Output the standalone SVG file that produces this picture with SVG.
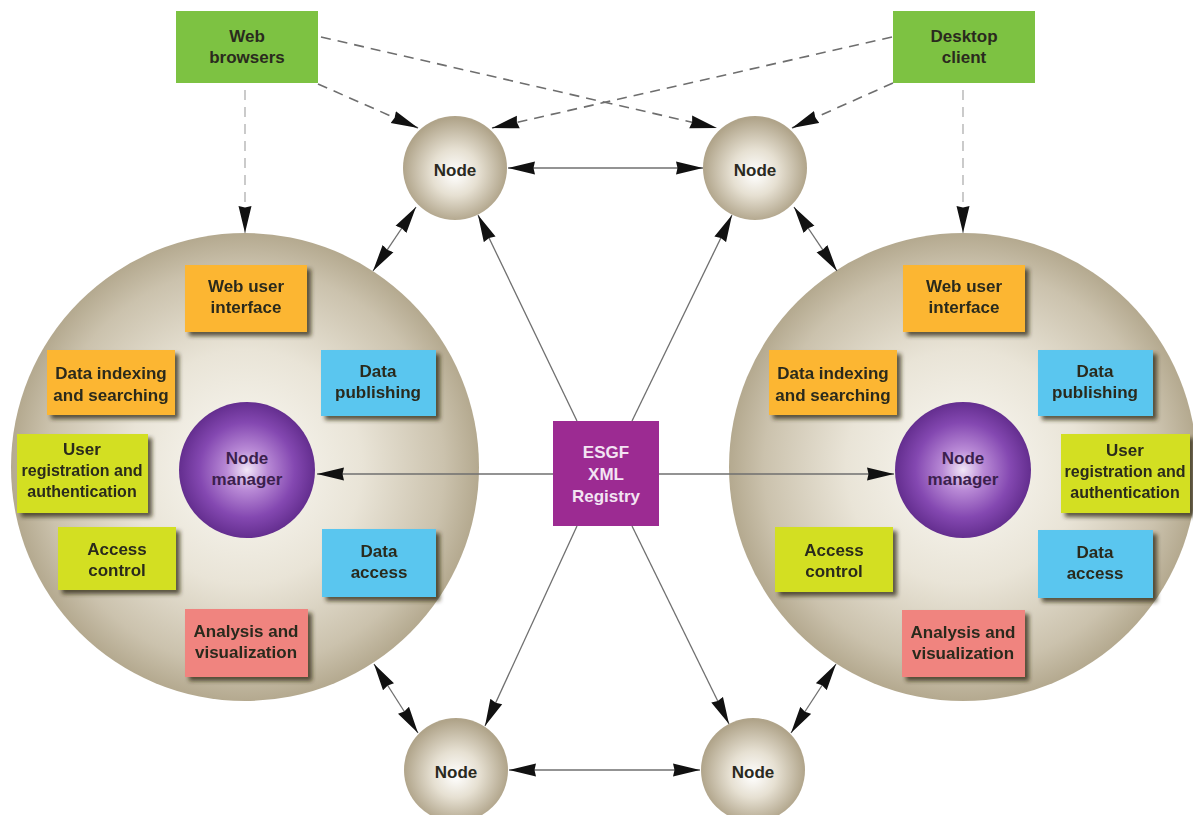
<svg xmlns="http://www.w3.org/2000/svg" width="1193" height="815" viewBox="0 0 1193 815">
<defs>
<radialGradient id="gBig" cx="50%" cy="50%" r="50%">
<stop offset="0" stop-color="#fbfaf5"/>
<stop offset="0.5" stop-color="#e9e4d7"/>
<stop offset="0.85" stop-color="#cbc2ad"/>
<stop offset="1" stop-color="#b4a98f"/>
</radialGradient>
<radialGradient id="gNode" cx="50%" cy="52%" r="50%" fx="50%" fy="56%">
<stop offset="0" stop-color="#ffffff"/>
<stop offset="0.45" stop-color="#e6e0d2"/>
<stop offset="1" stop-color="#b0a48a"/>
</radialGradient>
<radialGradient id="gMgr" cx="50%" cy="50%" r="50%">
<stop offset="0" stop-color="#f1e6f7"/>
<stop offset="0.3" stop-color="#b98ad6"/>
<stop offset="0.7" stop-color="#8448b1"/>
<stop offset="1" stop-color="#642e8f"/>
</radialGradient>
<filter id="sh" x="-10%" y="-10%" width="130%" height="130%">
<feDropShadow dx="4" dy="4" stdDeviation="2" flood-color="#2e2718" flood-opacity="0.75"/>
</filter>
<marker id="ah" markerUnits="userSpaceOnUse" markerWidth="28" markerHeight="14" refX="27" refY="7" orient="auto-start-reverse" viewBox="0 0 28 14">
<path d="M0,0.5 L27,7 L0,13.5 L1.5,7 Z" fill="#111" stroke="none"/>
</marker>
<style>
.t{font-family:"Liberation Sans",Arial,sans-serif;font-weight:bold;font-size:17px;text-anchor:middle;fill:#2a2a1e}
.s{font-size:16px}
.w{fill:#f3e4f3}
.m{fill:#3b1f4d}
.green{fill:#7dc242}
.orange{fill:#fcb632}
.blue{fill:#5ac6ef}
.lime{fill:#d3df22}
.pink{fill:#f0847f}
.box{filter:url(#sh)}
.sol{stroke:#6f6f6f;stroke-width:1.3;fill:none}
.dash{stroke:#6e6e6e;stroke-width:1.6;stroke-dasharray:10 7;fill:none}
.dashl{stroke:#b5b5b5;stroke-width:1.4;stroke-dasharray:10 7;fill:none}
</style>
</defs>
<rect width="1193" height="815" fill="#ffffff"/>

<g id="site-left">
<circle cx="245" cy="467" r="234" fill="url(#gBig)"/>
</g>
<g id="site-right">
<circle cx="963" cy="467" r="234" fill="url(#gBig)"/>
</g>

<g id="web-browsers">
<rect x="176" y="11" width="142" height="72" class="green"/>
<text class="t" x="247" y="42">Web</text>
<text class="t" x="247" y="63">browsers</text>
</g>
<g id="desktop-client">
<rect x="893" y="11" width="142" height="72" class="green"/>
<text class="t" x="964" y="42">Desktop</text>
<text class="t" x="964" y="63">client</text>
</g>

<g id="node-tl">
<circle cx="455" cy="168" r="52" fill="url(#gNode)"/>
<text class="t" x="455" y="176">Node</text>
</g>
<g id="node-tr">
<circle cx="755" cy="168" r="52" fill="url(#gNode)"/>
<text class="t" x="755" y="176">Node</text>
</g>
<g id="node-bl">
<circle cx="456" cy="770" r="52" fill="url(#gNode)"/>
<text class="t" x="456" y="778">Node</text>
</g>
<g id="node-br">
<circle cx="753" cy="770" r="52" fill="url(#gNode)"/>
<text class="t" x="753" y="778">Node</text>
</g>

<g id="registry">
<rect x="553" y="421" width="106" height="105" fill="#9c2b92"/>
<text class="t w" x="606" y="458">ESGF</text>
<text class="t w" x="606" y="480">XML</text>
<text class="t w" x="606" y="502">Registry</text>
</g>

<!-- left site components -->
<g id="l-webui" class="box">
<rect x="185" y="265" width="122" height="67" class="orange"/>
<text class="t" x="246" y="292">Web user</text>
<text class="t" x="246" y="313">interface</text>
</g>
<g id="l-index" class="box">
<rect x="47" y="350" width="128" height="65" class="orange"/>
<text class="t" x="111" y="379">Data indexing</text>
<text class="t" x="111" y="401">and searching</text>
</g>
<g id="l-publish" class="box">
<rect x="321" y="350" width="115" height="66" class="blue"/>
<text class="t" x="378" y="377">Data</text>
<text class="t" x="378" y="398">publishing</text>
</g>
<g id="l-userreg" class="box">
<rect x="17" y="434" width="131" height="79" class="lime"/>
<text class="t" x="82" y="455">User</text>
<text class="t s" x="82" y="476">registration and</text>
<text class="t s" x="82" y="497">authentication</text>
</g>
<g id="l-manager">
<circle cx="247" cy="470" r="68" fill="url(#gMgr)"/>
<text class="t m" x="247" y="464">Node</text>
<text class="t m" x="247" y="485">manager</text>
</g>
<g id="l-access" class="box">
<rect x="58" y="527" width="118" height="63" class="lime"/>
<text class="t" x="117" y="555">Access</text>
<text class="t" x="117" y="576">control</text>
</g>
<g id="l-dataaccess" class="box">
<rect x="322" y="529" width="114" height="68" class="blue"/>
<text class="t" x="379" y="557">Data</text>
<text class="t" x="379" y="578">access</text>
</g>
<g id="l-analysis" class="box">
<rect x="185" y="609" width="123" height="68" class="pink"/>
<text class="t" x="246" y="637">Analysis and</text>
<text class="t" x="246" y="658">visualization</text>
</g>

<!-- right site components -->
<g id="r-webui" class="box">
<rect x="903" y="265" width="122" height="67" class="orange"/>
<text class="t" x="964" y="292">Web user</text>
<text class="t" x="964" y="313">interface</text>
</g>
<g id="r-index" class="box">
<rect x="769" y="350" width="128" height="65" class="orange"/>
<text class="t" x="833" y="379">Data indexing</text>
<text class="t" x="833" y="401">and searching</text>
</g>
<g id="r-publish" class="box">
<rect x="1038" y="350" width="115" height="66" class="blue"/>
<text class="t" x="1095" y="377">Data</text>
<text class="t" x="1095" y="398">publishing</text>
</g>
<g id="r-userreg" class="box">
<rect x="1061" y="434" width="129" height="79" class="lime"/>
<text class="t" x="1125" y="456">User</text>
<text class="t s" x="1125" y="477">registration and</text>
<text class="t s" x="1125" y="498">authentication</text>
</g>
<g id="r-manager">
<circle cx="963" cy="470" r="68" fill="url(#gMgr)"/>
<text class="t m" x="963" y="464">Node</text>
<text class="t m" x="963" y="485">manager</text>
</g>
<g id="r-access" class="box">
<rect x="775" y="527" width="118" height="65" class="lime"/>
<text class="t" x="834" y="556">Access</text>
<text class="t" x="834" y="577">control</text>
</g>
<g id="r-dataaccess" class="box">
<rect x="1038" y="530" width="115" height="68" class="blue"/>
<text class="t" x="1095" y="558">Data</text>
<text class="t" x="1095" y="579">access</text>
</g>
<g id="r-analysis" class="box">
<rect x="902" y="610" width="123" height="67" class="pink"/>
<text class="t" x="963" y="638">Analysis and</text>
<text class="t" x="963" y="659">visualization</text>
</g>

<g id="connectors">
<!-- dashed client connections -->
<line class="dashl" x1="245" y1="90" x2="245" y2="233" marker-end="url(#ah)"/>
<line class="dashl" x1="963" y1="90" x2="963" y2="233" marker-end="url(#ah)"/>
<line class="dash" x1="318" y1="84" x2="418" y2="128" marker-end="url(#ah)"/>
<line class="dash" x1="321" y1="37" x2="717" y2="128" marker-end="url(#ah)"/>
<line class="dash" x1="892" y1="37" x2="492" y2="128" marker-end="url(#ah)"/>
<line class="dash" x1="893" y1="83" x2="792" y2="128" marker-end="url(#ah)"/>
<!-- node to node -->
<line class="sol" x1="508" y1="168" x2="703" y2="168" marker-start="url(#ah)" marker-end="url(#ah)"/>
<line class="sol" x1="509" y1="770" x2="700" y2="770" marker-start="url(#ah)" marker-end="url(#ah)"/>
<!-- node to site -->
<line class="sol" x1="416" y1="207" x2="373" y2="271" marker-start="url(#ah)" marker-end="url(#ah)"/>
<line class="sol" x1="794" y1="207" x2="837" y2="271" marker-start="url(#ah)" marker-end="url(#ah)"/>
<line class="sol" x1="374" y1="664" x2="418" y2="733" marker-start="url(#ah)" marker-end="url(#ah)"/>
<line class="sol" x1="836" y1="664" x2="791" y2="733" marker-start="url(#ah)" marker-end="url(#ah)"/>
<!-- registry -->
<line class="sol" x1="553" y1="474" x2="317" y2="474" marker-end="url(#ah)"/>
<line class="sol" x1="659" y1="474" x2="894" y2="474" marker-end="url(#ah)"/>
<line class="sol" x1="577" y1="421" x2="478" y2="215" marker-end="url(#ah)"/>
<line class="sol" x1="632" y1="421" x2="732" y2="215" marker-end="url(#ah)"/>
<line class="sol" x1="577" y1="526" x2="485" y2="726" marker-end="url(#ah)"/>
<line class="sol" x1="632" y1="526" x2="729" y2="724" marker-end="url(#ah)"/>
</g>
</svg>
